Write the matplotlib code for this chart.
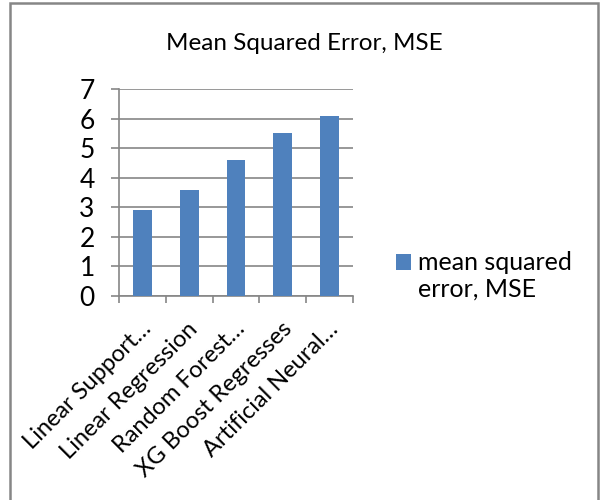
import matplotlib.pyplot as plt
import matplotlib.transforms as mtransforms
from matplotlib.container import BarContainer
from matplotlib.legend_handler import HandlerPatch, update_from_first_child
from matplotlib.patches import Rectangle

# chart data
categories = ["Linear Support…", "Linear Regression", "Random Forest…",
              "XG Boost Regresses", "Artificial Neural…"]
mse_values = [2.9, 3.6, 4.6, 5.5, 6.1]
series_name = "mean squared\nerror, MSE"
title = "Mean Squared Error, MSE"

BLUE = "#4f81bd"
GRID = "#868686"

plt.rcParams["font.family"] = ["Lato", "DejaVu Sans"]

fig = plt.figure(figsize=(6, 5), dpi=100)
W, H = 600, 500
# plot area in pixels: left 119, right 353, top 89, bottom 296
ax = fig.add_axes([119 / W, 1 - 296 / H, (353 - 119) / W, (296 - 89) / H])

x = list(range(len(categories)))
ax.bar(x, mse_values, width=0.4, color=BLUE, zorder=3, label=series_name)

ax.set_xlim(-0.5, len(categories) - 0.5)
ax.set_ylim(0, 7)
ax.set_yticks(range(0, 8))
ax.yaxis.grid(True, color=GRID, linewidth=1.2, zorder=0)

for side in ("top", "right"):
    ax.spines[side].set_visible(False)
for side in ("left", "bottom"):
    ax.spines[side].set_color(GRID)
    ax.spines[side].set_linewidth(1.2)

ax.tick_params(axis="y", length=5.5, width=1.2, color=GRID, labelsize=19, pad=12)
ax.set_xticks([i - 0.5 for i in range(len(categories) + 1)], minor=False)
ax.set_xticklabels([])
ax.tick_params(axis="x", which="major", length=5, width=1.2, color=GRID)
ax.set_xticks(x, minor=True)
ax.set_xticklabels(categories, minor=True, rotation=45, ha="right",
                   rotation_mode="anchor", fontsize=17)
ax.tick_params(axis="x", which="minor", length=0, pad=16)
shift = mtransforms.ScaledTranslation(-2 / 100, 0, fig.dpi_scale_trans)
for lbl in ax.get_xticklabels(minor=True):
    lbl.set_transform(lbl.get_transform() + shift)

fig.text(304 / W, 1 - 43 / H, title, ha="center", va="center", fontsize=17.5)


# legend square sits beside the first line of the two-line label
def first_line_square(legend, orig_handle, xdescent, ydescent, width, height, fontsize):
    return Rectangle((-xdescent, -ydescent + 0.6 * fontsize), width, height)


square_handler = HandlerPatch(patch_func=first_line_square,
                              update_func=update_from_first_child)
ax.legend(loc="upper left", bbox_to_anchor=(396 / W, 1 - 251 / H),
          bbox_transform=fig.transFigure, frameon=False, fontsize=18,
          borderpad=0, borderaxespad=0,
          handlelength=0.6, handleheight=0.6, handletextpad=0.3,
          labelspacing=0.1,
          handler_map={BarContainer: square_handler})

fig.patches.append(Rectangle((10 / W, -0.1), (598 - 10) / W, 1.1 - 3 / H,
                             transform=fig.transFigure, fill=False,
                             edgecolor=GRID, linewidth=1.8))

fig.savefig("out.png", dpi=100)
